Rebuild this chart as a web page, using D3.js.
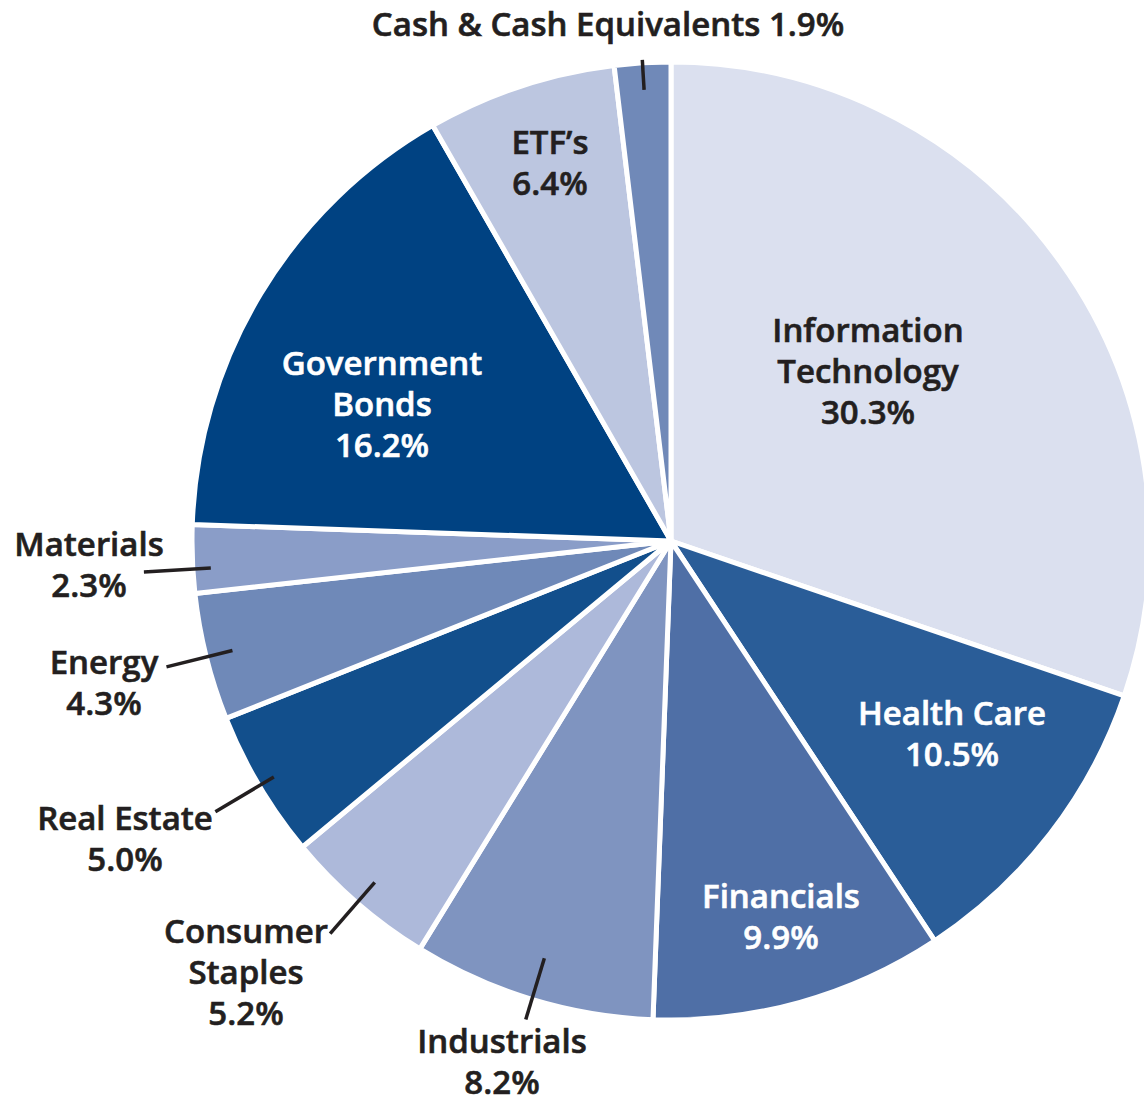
<!DOCTYPE html>
<html>
<head>
<meta charset="utf-8">
<script src="https://cdn.jsdelivr.net/npm/d3@7"></script>
<style>
  html, body { margin: 0; padding: 0; background: #fff; }
  svg { display: block; }
</style>
</head>
<body>
<div id="chart"></div>
<script>
// sectors, clockwise from 12 o'clock
var sectors = ["Information Technology", "Health Care", "Financials", "Industrials",
               "Consumer Staples", "Real Estate", "Energy", "Materials",
               "Government Bonds", "ETF's", "Cash & Cash Equivalents"];
var weights = [30.3, 10.5, 9.9, 8.2, 5.2, 5.0, 4.3, 2.3, 16.2, 6.4, 1.9];
var fills   = ["#dbe0ef", "#2a5d98", "#4f6fa6", "#7f94c0", "#adb9da", "#124f8c",
               "#6f89b8", "#8a9dc8", "#004282", "#bcc6e0", "#7089b8"];

// label text lines (last line is the percentage)
var labelLines = [
  ["Information", "Technology"], ["Health Care"], ["Financials"], ["Industrials"],
  ["Consumer", "Staples"], ["Real Estate"], ["Energy"], ["Materials"],
  ["Government", "Bonds"], ["ETF\u2019s"], []
];

var W = 1144, H = 1103,
    cx = 671, cy = 541, R = 479,
    lineH = 41;

// label placement: x center, first baseline, text colour, leader radii (+ angle nudge, deg)
var place = {
  "Information Technology":  {x: 868, y: 342, c: "#231f20"},
  "Health Care":             {x: 952, y: 725, c: "#fff"},
  "Financials":              {x: 781, y: 908, c: "#fff"},
  "Industrials":             {x: 502, y: 1053, c: "#231f20", l: [436, 500]},
  "Consumer Staples":        {x: 246, y: 943, c: "#231f20", l: [452, 520]},
  "Real Estate":             {x: 125, y: 830, c: "#231f20", l: [462, 530]},
  "Energy":                  {x: 104, y: 674, c: "#231f20", l: [452, 520]},
  "Materials":               {x: 89,  y: 556, c: "#231f20", l: [461, 528], da: -1.2},
  "Government Bonds":        {x: 382, y: 375, c: "#fff"},
  "ETF's":                   {x: 550, y: 154, c: "#231f20"},
  "Cash & Cash Equivalents": {x: 608, y: 36,  c: "#231f20", l: [452, 482], inline: true}
};

var data = sectors.map(function(s, i) {
  return {name: s, value: weights[i], fill: fills[i], lines: labelLines[i]};
});

var svg = d3.select("#chart").append("svg")
    .attr("width", W)
    .attr("height", H);

var pie = d3.pie().sort(null).value(function(d) { return d.value; });
var arc = d3.arc().innerRadius(0).outerRadius(R);
var arcs = pie(data);

var g = svg.append("g").attr("transform", "translate(" + cx + "," + cy + ")");

g.selectAll(".slice")
  .data(arcs)
  .enter().append("path")
    .attr("class", "slice")
    .attr("d", arc)
    .style("fill", function(d) { return d.data.fill; })
    .style("stroke", "#fff")
    .style("stroke-width", 5)
    .style("stroke-linejoin", "round");

/* leader lines, radial along each slice's mid angle */
function polar(a, r) { return [Math.sin(a) * r, -Math.cos(a) * r]; }

g.selectAll(".leader")
  .data(arcs.filter(function(d) { return place[d.data.name].l; }))
  .enter().append("line")
    .attr("class", "leader")
    .each(function(d) {
      var p = place[d.data.name],
          a = (d.startAngle + d.endAngle) / 2 + (p.da || 0) * Math.PI / 180,
          p0 = polar(a, p.l[0]), p1 = polar(a, p.l[1]);
      d3.select(this)
        .attr("x1", p0[0]).attr("y1", p0[1])
        .attr("x2", p1[0]).attr("y2", p1[1]);
    })
    .style("stroke", "#231f20")
    .style("stroke-width", 3.5);

/* labels */
var fmt = d3.format(".1f");
var labels = svg.selectAll(".lbl")
  .data(arcs)
  .enter().append("text")
    .attr("class", "lbl")
    .attr("text-anchor", "middle")
    .style("font-family", "'Open Sans', sans-serif")
    .style("font-weight", 600)
    .style("font-size", "33px")
    .style("fill", function(d) { return place[d.data.name].c; })
    .style("stroke", function(d) { return place[d.data.name].c; })
    .style("stroke-width", 0.6);

labels.each(function(d) {
  var p = place[d.data.name],
      t = d3.select(this),
      pct = fmt(d.data.value) + "%",
      lines = p.inline ? [d.data.name + " " + pct] : d.data.lines.concat([pct]);
  lines.forEach(function(txt, i) {
    t.append("tspan")
      .attr("x", p.x)
      .attr("y", p.y + i * lineH)
      .text(txt);
  });
});
</script>
</body>
</html>
